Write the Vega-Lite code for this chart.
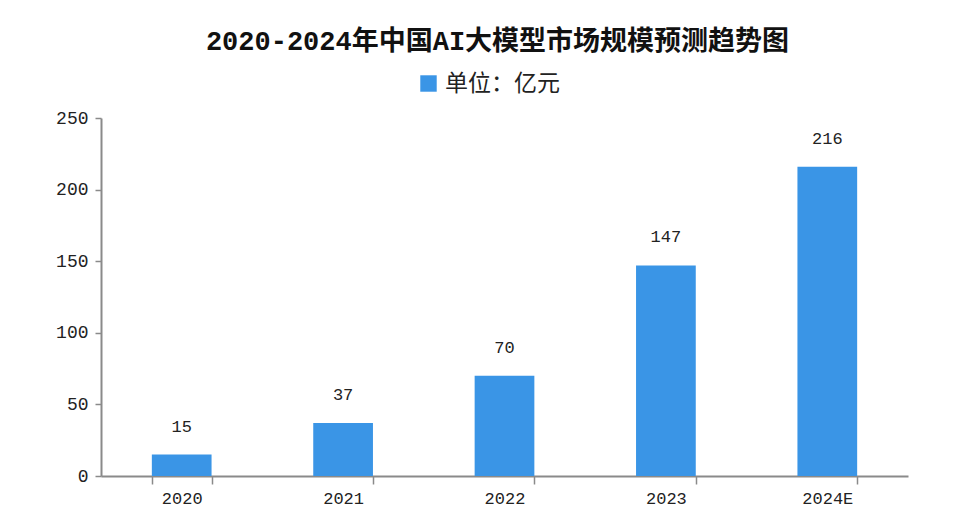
{
  "$schema": "https://vega.github.io/schema/vega-lite/v6.json",
  "width": 807,
  "height": 358,
  "autosize": {"type": "none"},
  "padding": {"left": 101, "top": 118, "right": 61, "bottom": 46},
  "background": "white",
  "view": {"stroke": null},
  "title": {
    "text": "2020-2024年中国AI大模型市场规模预测趋势图",
    "font": "Liberation Mono, Noto Sans CJK SC",
    "fontSize": 27,
    "fontWeight": "bold",
    "color": "#111111",
    "anchor": "middle",
    "frame": "group",
    "dx": -7,
    "offset": 16
  },
  "data": {
    "values": [
      {"year": "2020", "value": 15, "series": "单位：亿元"},
      {"year": "2021", "value": 37, "series": "单位：亿元"},
      {"year": "2022", "value": 70, "series": "单位：亿元"},
      {"year": "2023", "value": 147, "series": "单位：亿元"},
      {"year": "2024E", "value": 216, "series": "单位：亿元"}
    ]
  },
  "encoding": {
    "x": {
      "field": "year",
      "type": "nominal",
      "sort": null,
      "scale": {"paddingInner": 0.63, "paddingOuter": 0.315},
      "axis": {
        "title": null,
        "labelAngle": 0,
        "labelFont": "Liberation Mono",
        "labelFontSize": 17,
        "labelColor": "#222222",
        "labelPadding": 6,
        "domainColor": "#8a8a8a",
        "domainWidth": 2,
        "tickColor": "#8a8a8a",
        "tickWidth": 1.5,
        "tickSize": 8,
        "tickBand": "extent",
        "grid": false
      }
    },
    "y": {
      "field": "value",
      "type": "quantitative",
      "scale": {"domain": [0, 250], "nice": false},
      "axis": {
        "title": null,
        "values": [0, 50, 100, 150, 200, 250],
        "labelFont": "Liberation Mono",
        "labelFontSize": 18,
        "labelColor": "#222222",
        "labelPadding": 7,
        "domainColor": "#8a8a8a",
        "domainWidth": 2,
        "tickColor": "#8a8a8a",
        "tickWidth": 1.5,
        "tickSize": 6,
        "grid": false
      }
    }
  },
  "layer": [
    {
      "mark": {"type": "bar"},
      "encoding": {
        "color": {
          "field": "series",
          "type": "nominal",
          "scale": {"range": ["#3a95e6"]},
          "legend": {
            "title": null,
            "orient": "none",
            "legendX": 316,
            "legendY": -46,
            "direction": "horizontal",
            "symbolType": "square",
            "symbolSize": 270,
            "symbolStrokeWidth": 0,
            "labelFont": "Noto Sans CJK SC",
            "labelFontSize": 23,
            "labelColor": "#222222",
            "labelOffset": 5
          }
        }
      }
    },
    {
      "mark": {
        "type": "text",
        "baseline": "middle",
        "dy": -28,
        "font": "Liberation Mono",
        "fontSize": 17,
        "color": "#222222"
      },
      "encoding": {
        "text": {"field": "value", "type": "quantitative"}
      }
    }
  ]
}
